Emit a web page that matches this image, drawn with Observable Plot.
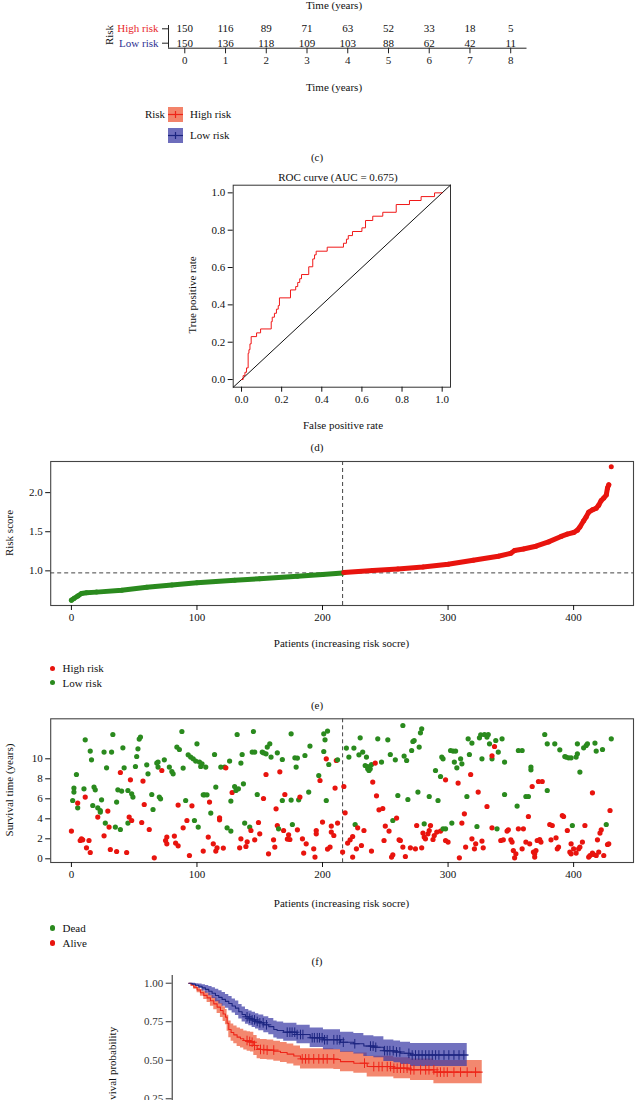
<!DOCTYPE html>
<html><head><meta charset="utf-8">
<script src="https://cdn.jsdelivr.net/npm/d3@7"></script>
<script src="https://cdn.jsdelivr.net/npm/@observablehq/plot@0.6"></script>
<style>
body{margin:0;background:#fff}
#page{position:relative;width:635px;height:1100px;overflow:hidden;background:#fff;font-family:'Liberation Serif','DejaVu Serif',serif;color:#111}
.lbl{position:absolute;white-space:nowrap;line-height:1;font-size:11px}
.abs{position:absolute;left:0}
</style></head><body><div id="page"></div>
<script>
// ---------- DATA ----------
// (c) number at risk table
const riskTimes = [0,1,2,3,4,5,6,7,8];
const highAtRisk = [150,116,89,71,63,52,33,18,5];
const lowAtRisk  = [150,136,118,109,103,88,62,42,11];
const riskGroups = ["High risk","Low risk"];

// (d) ROC curve (step points: start of each flat segment)
const rocFpr = [0,0.008,0.017,0.025,0.033,0.037,0.042,0.048,0.075,0.095,0.148,0.153,0.164,0.174,0.183,0.189,0.244,0.27,0.28,0.29,0.299,0.335,0.355,0.364,0.372,0.427,0.508,0.523,0.532,0.553,0.6,0.618,0.654,0.704,0.771,0.837,0.895,0.962,1.0];
const rocTpr = [0,0.021,0.039,0.0625,0.141,0.16,0.191,0.23,0.25,0.271,0.31,0.334,0.355,0.377,0.396,0.4375,0.48,0.498,0.52,0.54,0.5625,0.604,0.646,0.668,0.6875,0.709,0.73,0.752,0.771,0.793,0.8125,0.852,0.875,0.896,0.9375,0.959,0.98,1.0,1.0];
const aucLabel = "ROC curve (AUC = 0.675)";

// (e) risk score curve (patients sorted by increasing risk score)
const riskIdx   = [0,2,5,8,12,20,40,60,80,100,130,150,180,200,216,217,240,260,280,300,320,340,350,353,360,370,380,390,395,400,403,405,408,410,412,415,418,420,422,424,426,427,428,430];
const riskScore = [0.625,0.647,0.677,0.71,0.72,0.728,0.753,0.79,0.82,0.847,0.88,0.9,0.93,0.953,0.972,0.978,1.005,1.025,1.05,1.085,1.136,1.187,1.225,1.26,1.28,1.315,1.37,1.44,1.47,1.49,1.52,1.56,1.64,1.69,1.75,1.78,1.80,1.84,1.90,1.93,1.97,2.06,2.10,2.33];
const cutIdx = 216;
const cutScore = 0.974;

// (f) survival time per patient [patient, years]
const deadPts = [[1,5.83],[2,6.67],[2,7.07],[4,8.43],[5,5.1],[10,7.0],[11,11.9],[15,10.77],[16,9.9],[17,5.33],[18,7.17],[19,6.9],[21,5.1],[23,4.83],[23,4.67],[24,5.9],[26,10.67],[27,3.57],[28,9.1],[32,10.67],[33,12.43],[35,3.17],[36,5.67],[37,6.9],[39,2.93],[40,6.77],[41,11.1],[42,9.1],[45,3.57],[45,6.83],[48,6.5],[49,6.17],[51,9.23],[52,10.23],[53,11.0],[54,11.97],[55,12.17],[60,9.4],[61,8.5],[64,6.43],[65,4.93],[68,9.57],[69,9.67],[69,9.17],[70,6.17],[71,6.0],[74,9.9],[78,9.17],[80,8.73],[81,8.5],[84,11.17],[86,10.93],[88,12.73],[89,9.07],[91,5.83],[93,10.4],[95,10.17],[97,10.0],[98,3.83],[99,9.77],[100,11.5],[101,3.17],[102,9.67],[103,9.23],[104,9.5],[105,6.4],[106,6.4],[107,9.17],[108,6.4],[111,4.57],[114,10.43],[115,7.17],[119,9.17],[122,9.17],[124,3.1],[126,9.77],[127,5.77],[127,2.77],[130,7.23],[131,6.83],[132,12.43],[133,7.0],[135,9.57],[136,10.43],[137,7.5],[138,3.57],[142,3.17],[144,10.67],[145,12.73],[146,10.67],[148,6.43],[152,10.67],[153,10.6],[155,10.5],[156,11.17],[158,11.5],[159,10.17],[164,10.6],[165,3.0],[168,5.83],[168,9.93],[175,12.5],[175,5.87],[176,3.43],[178,10.1],[179,9.17],[180,10.07],[181,5.9],[186,10.33],[189,6.67],[190,11.27],[197,8.33],[201,12.5],[201,10.73],[202,11.9],[203,5.83],[204,12.77],[205,9.43],[212,9.9],
[219,11.07],[221,10.17],[225,11.07],[226,3.43],[229,10.4],[230,12.1],[232,10.67],[234,9.33],[235,10.17],[236,9.0],[236,9.23],[237,8.83],[238,9.0],[239,9.43],[244,12.0],[247,9.67],[252,11.9],[254,10.43],[256,3.83],[258,9.9],[260,6.33],[264,13.33],[265,10.27],[267,9.83],[268,5.93],[271,10.83],[272,11.73],[273,11.83],[276,6.67],[277,11.17],[278,12.6],[279,13.0],[281,3.5],[285,6.23],[290,8.83],[292,5.83],[294,8.23],[295,10.17],[296,10.0],[296,3.0],[298,3.0],[302,10.83],[303,3.57],[304,10.77],[305,9.67],[306,10.77],[307,9.1],[310,10.0],[311,9.5],[315,6.23],[316,12.0],[317,10.43],[319,11.57],[323,3.23],[325,12.1],[326,12.4],[327,10.0],[329,12.43],[331,12.17],[332,12.43],[333,11.5],[335,10.0],[338,11.83],[339,3.0],[340,10.67],[343,12.0],[345,9.67],[345,6.43],[355,5.27],[356,10.83],[359,10.83],[362,6.23],[364,6.23],[366,9.17],[366,8.9],[377,12.43],[379,11.5],[379,6.83],[385,11.5],[389,10.9],[393,10.23],[394,10.17],[396,10.1],[398,10.1],[399,3.33],[402,10.17],[403,11.5],[403,10.5],[405,8.67],[408,11.1],[410,11.33],[411,11.5],[417,11.57],[418,10.77],[423,10.93],[426,3.43],[430,12.0]];
const alivePts = [[0,2.77],[5,5.57],[7,1.83],[8,2.0],[9,1.9],[11,6.17],[12,1.1],[14,1.83],[15,0.63],[21,4.17],[26,2.3],[29,4.77],[30,3.17],[31,0.93],[36,0.73],[39,8.63],[44,0.63],[46,4.17],[47,7.9],[48,3.83],[56,3.63],[57,7.77],[58,5.43],[62,2.93],[66,0.1],[72,8.83],[75,1.83],[76,2.17],[76,1.5],[82,2.27],[83,1.57],[85,1.3],[85,5.37],[89,3.1],[92,3.83],[94,0.33],[96,5.3],[105,0.77],[109,2.17],[110,5.67],[113,1.5],[115,0.77],[116,1.1],[118,4.1],[118,3.9],[121,1.07],[123,9.1],[128,6.63],[134,1.1],[135,2.0],[139,1.23],[140,1.7],[143,2.83],[146,1.9],[149,3.63],[150,2.5],[153,6.03],[155,8.43],[157,0.5],[161,1.9],[162,1.17],[163,5.0],[164,3.33],[166,8.7],[169,2.83],[170,6.43],[172,1.97],[173,2.4],[174,1.93],[180,2.9],[182,6.17],[184,2.0],[185,0.57],[187,1.5],[193,1.0],[194,0.17],[195,2.83],[195,2.5],[198,7.83],[200,3.67],[203,10.0],[204,0.97],[206,1.17],[207,3.27],[207,2.67],[209,2.33],[210,7.07],[211,9.83],[212,3.57],
[216,0.67],[217,7.23],[218,4.6],[220,1.57],[222,1.9],[224,0.17],[224,2.23],[227,1.0],[228,3.1],[231,1.33],[233,2.83],[239,0.77],[240,7.67],[242,9.57],[243,6.3],[245,4.9],[248,5.03],[249,1.83],[250,3.27],[253,2.77],[255,0.17],[256,0.4],[259,4.07],[261,1.9],[262,1.83],[264,1.17],[266,0.23],[270,1.1],[274,1.0],[275,3.33],[279,1.1],[280,2.57],[281,2.17],[282,2.0],[284,2.5],[285,2.83],[286,3.33],[288,1.93],[289,2.33],[291,2.67],[294,2.77],[298,7.9],[298,1.83],[300,1.67],[308,7.57],[309,0.1],[311,3.57],[313,4.5],[314,1.17],[318,8.43],[319,2.0],[321,1.0],[322,1.5],[324,6.67],[327,1.77],[328,1.1],[331,5.23],[335,3.1],[335,10.3],[337,11.23],[342,1.83],[344,1.9],[347,2.77],[348,2.9],[350,1.9],[351,1.67],[352,0.83],[353,0.1],[354,0.5],[356,3.0],[359,1.0],[360,3.0],[362,1.67],[364,4.23],[365,1.5],[367,7.23],[368,0.67],[369,0.17],[369,0.5],[370,0.83],[371,1.83],[372,7.73],[373,1.93],[374,1.67],[375,7.73],[381,3.43],[382,1.9],[383,3.33],[386,2.1],[387,1.0],[388,1.17],[391,4.33],[392,4.23],[395,2.83],[397,0.67],[398,1.5],[398,0.5],[400,1.0],[402,0.57],[404,1.0],[405,1.17],[407,1.67],[409,3.33],[412,0.17],[413,0.33],[415,0.57],[415,6.6],[416,0.43],[418,0.33],[419,1.9],[420,0.67],[421,2.57],[422,2.9],[424,0.33],[427,1.43],[428,1.5],[429,4.83]];

// (g) Kaplan-Meier curves
const lowTime  = [0,0.151,0.302,0.453,0.604,0.755,0.906,1.057,1.208,1.360,1.511,1.662,1.813,1.964,2.115,2.266,2.417,2.568,2.719,2.870,3.021,3.172,3.399,3.625,3.852,4.003,4.3,4.9,5.5,6.1,6.873,7.477,7.931,8.384,8.837,9.290,9.592,10.045,12.613];
const lowSurv  = [1,0.994,0.987,0.98,0.97,0.96,0.948,0.935,0.92,0.908,0.895,0.882,0.868,0.852,0.838,0.815,0.797,0.782,0.772,0.762,0.752,0.743,0.73,0.718,0.70,0.693,0.682,0.667,0.646,0.633,0.617,0.607,0.592,0.584,0.562,0.554,0.545,0.534,0.534];
const lowLower = [1,0.988,0.977,0.965,0.95,0.935,0.918,0.90,0.88,0.865,0.851,0.837,0.822,0.806,0.791,0.768,0.749,0.734,0.724,0.713,0.702,0.692,0.678,0.665,0.645,0.637,0.624,0.607,0.583,0.568,0.552,0.541,0.525,0.516,0.492,0.483,0.473,0.459,0.459];
const lowUpper = [1,1.0,0.997,0.995,0.99,0.985,0.978,0.97,0.96,0.951,0.939,0.927,0.914,0.898,0.885,0.862,0.845,0.83,0.82,0.811,0.802,0.794,0.782,0.771,0.755,0.749,0.74,0.727,0.709,0.698,0.682,0.673,0.659,0.652,0.632,0.625,0.617,0.609,0.609];
const highTime  = [0,0.106,0.227,0.378,0.529,0.680,0.831,0.982,1.133,1.284,1.435,1.556,1.662,1.737,1.813,1.918,2.039,2.190,2.341,2.492,2.644,2.795,2.946,3.097,3.248,3.550,3.852,4.154,4.456,4.758,5.060,6.571,6.873,7.477,8.082,9.290,10.045,11.103,13.293];
const highSurv  = [1,0.988,0.974,0.956,0.938,0.921,0.905,0.886,0.866,0.845,0.823,0.80,0.78,0.74,0.70,0.68,0.665,0.65,0.64,0.628,0.622,0.617,0.596,0.574,0.57,0.566,0.558,0.55,0.54,0.528,0.509,0.505,0.491,0.481,0.459,0.4485,0.438,0.423,0.423];
const highLower = [1,0.98,0.961,0.938,0.915,0.894,0.874,0.851,0.827,0.803,0.778,0.752,0.73,0.688,0.646,0.624,0.607,0.59,0.579,0.566,0.559,0.553,0.531,0.509,0.505,0.501,0.493,0.485,0.475,0.463,0.444,0.44,0.425,0.415,0.392,0.3805,0.368,0.348,0.348];
const highUpper = [1,0.996,0.987,0.974,0.961,0.948,0.936,0.921,0.905,0.887,0.868,0.848,0.83,0.792,0.754,0.736,0.723,0.71,0.701,0.69,0.685,0.681,0.661,0.639,0.635,0.631,0.623,0.615,0.605,0.593,0.574,0.57,0.557,0.547,0.526,0.5165,0.508,0.498,0.498];
const lowCensor  = [2.64,2.76,2.87,2.98,3.10,3.22,3.37,3.52,4.46,4.58,4.68,4.80,4.91,5.06,5.17,5.59,5.69,5.82,5.92,6.04,6.15,6.27,6.57,6.72,6.84,7.0,7.52,8.23,8.35,8.47,8.87,8.99,9.11,9.26,9.41,9.56,9.97,10.12,10.27,10.42,10.57,10.73,10.88,11.03,11.18,11.33,11.56,11.78,12.01,12.24,12.46];
const highCensor = [2.64,2.76,2.87,2.98,3.25,3.40,3.55,3.85,5.14,5.29,5.44,5.66,5.89,6.09,6.27,6.57,7.96,8.38,8.61,8.76,8.99,9.14,9.29,9.44,9.59,9.74,9.89,10.05,10.2,10.5,10.73,10.88,11.1,11.25,11.4,11.56,11.71,12.01,12.31,12.61,12.99];

// ---------- STYLE ----------
const FONT = "'Liberation Serif','DejaVu Serif',serif";
const RED = "#e8140e", GREEN = "#2a8a1e";
const KM_RED = "#ee2418", KM_BLUE = "#1c2580";
const BAND_RED = "#ef5a38", BAND_BLUE = "#3c3ca6";
const baseStyle = {fontFamily: FONT, fontSize: "11px", background: "transparent", overflow: "visible", color: "#111"};

const page = document.getElementById("page");
function place(node, top) {
  const d = document.createElement("div");
  d.className = "abs"; d.style.top = top + "px";
  d.appendChild(node); page.appendChild(d);
}
function label(text, x, y, {rot = false, color = "#111", size = 11, align = "center"} = {}) {
  const d = document.createElement("div");
  d.className = "lbl"; d.textContent = text;
  d.style.left = x + "px"; d.style.top = y + "px";
  d.style.color = color; d.style.fontSize = size + "px";
  const tx = align === "left" ? "0" : "-50%";
  d.style.transform = `translate(${tx},-50%)` + (rot ? " rotate(-90deg)" : "");
  page.appendChild(d);
  return d;
}

// ---------- (c) risk table ----------
const tableX = [-0.4, 8.4];
const tableY = [-0.347, 1.229];
const tableRows = riskTimes.flatMap((t, i) => [{t, row: 1, n: highAtRisk[i]}, {t, row: 0, n: lowAtRisk[i]}]);
place(Plot.plot({
  width: 635, height: 100, marginTop: 25, marginBottom: 52.3, marginLeft: 168, marginRight: 108.5,
  style: baseStyle,
  x: {domain: tableX}, y: {domain: tableY},
  marks: [
    Plot.ruleX([tableX[0]], {stroke: "#222"}),
    Plot.ruleY([tableY[0]], {stroke: "#222"}),
    Plot.axisX({ticks: riskTimes, tickSize: 5.6, tickPadding: 2.5, label: null, color: "#222"}),
    Plot.axisY({ticks: [1, 0], tickSize: 6, tickFormat: () => "", label: null, color: "#222"}),
    Plot.text([riskGroups[0]], {x: () => tableX[0], y: () => 1, text: d => d, textAnchor: "end", dx: -10, fill: "#e8262a"}),
    Plot.text([riskGroups[1]], {x: () => tableX[0], y: () => 0, text: d => d, textAnchor: "end", dx: -10, fill: "#2e3192"}),
    Plot.text(tableRows, {x: "t", y: "row", text: "n", fill: "#111"})
  ]
}), 0);
label("Time (years)", 334, 5);
label("Risk", 108.5, 35, {rot: true});
label("Time (years)", 334, 87);
// legend (c)
function swatch(fill, stroke, top) {
  const ns = "http://www.w3.org/2000/svg";
  const s = document.createElementNS(ns, "svg");
  s.setAttribute("width", 15); s.setAttribute("height", 15);
  s.style.position = "absolute"; s.style.left = "168px"; s.style.top = top + "px";
  s.innerHTML = `<rect width="15" height="15" fill="${fill}" fill-opacity="0.75"/><line x1="0" x2="15" y1="7.5" y2="7.5" stroke="${stroke}" stroke-width="1.2"/><line x1="7.5" x2="7.5" y1="4" y2="11" stroke="${stroke}" stroke-width="1.2"/>`;
  page.appendChild(s);
}
label("Risk", 155, 114);
swatch(BAND_RED, KM_RED, 107);
swatch(BAND_BLUE, KM_BLUE, 128);
label("High risk", 190, 114, {align: "left"});
label("Low risk", 190, 135, {align: "left"});
label("(c)", 317, 157);

// ---------- (d) ROC ----------
const rocX = [-0.0415, 1.0415], rocY = [-0.041, 1.041];
const roc = rocFpr.map((x, i) => ({x, y: rocTpr[i]}));
const diag = rocX.map(v => ({x: v, y: v}));
const rocTicks = [0, 0.2, 0.4, 0.6, 0.8, 1.0];
place(Plot.plot({
  width: 635, height: 270, marginTop: 14.7, marginBottom: 53.3, marginLeft: 232.7, marginRight: 185,
  style: baseStyle,
  x: {domain: rocX}, y: {domain: rocY},
  marks: [
    Plot.frame({stroke: "#333"}),
    Plot.line(diag, {x: "x", y: "y", stroke: "#111", strokeWidth: 1}),
    Plot.line(roc, {x: "x", y: "y", curve: "step-after", stroke: "#f01818", strokeWidth: 1}),
    Plot.axisX({ticks: rocTicks, tickFormat: ".1f", tickSize: 5, tickPadding: 3, label: null, color: "#111"}),
    Plot.axisY({ticks: rocTicks, tickFormat: ".1f", tickSize: 5, tickPadding: 3, label: null, color: "#111"})
  ]
}), 170);
label(aucLabel, 338, 177);
label("False positive rate", 343, 425);
label("True positive rate", 192, 295, {rot: true});
label("(d)", 317, 447);

// ---------- (e) risk score ----------
const patX = [-16.5, 447.7];
const patTicks = [0, 100, 200, 300, 400];
const riskPts = riskIdx.map((p, i) => ({p, s: riskScore[i]}));
const riskLowPts = riskPts.filter(d => d.p <= cutIdx);
const riskHighPts = riskPts.filter(d => d.p > cutIdx);
place(Plot.plot({
  width: 635, height: 210, marginTop: 21, marginBottom: 45, marginLeft: 50.2, marginRight: 2,
  style: baseStyle,
  x: {domain: patX}, y: {domain: [0.557, 2.398]},
  marks: [
    Plot.frame({stroke: "#444", strokeWidth: 1.1}),
    Plot.ruleX([cutIdx], {stroke: "#444", strokeDasharray: "4,3"}),
    Plot.ruleY([cutScore], {stroke: "#444", strokeDasharray: "4,3"}),
    Plot.line(riskLowPts, {x: "p", y: "s", stroke: GREEN, strokeWidth: 5, strokeLinecap: "round", strokeLinejoin: "round"}),
    Plot.line(riskHighPts.filter(d => d.s < 2.2), {x: "p", y: "s", stroke: RED, strokeWidth: 5, strokeLinecap: "round", strokeLinejoin: "round"}),
    Plot.dot(riskLowPts, {x: "p", y: "s", r: 2.5, fill: GREEN}),
    Plot.dot(riskHighPts, {x: "p", y: "s", r: 2.5, fill: RED}),
    Plot.axisX({ticks: patTicks, tickSize: 5, tickPadding: 3, label: null, color: "#111"}),
    Plot.axisY({ticks: [1, 1.5, 2], tickFormat: ".1f", tickSize: 5, tickPadding: 3, label: null, color: "#111"})
  ]
}), 440);
label("Risk score", 9, 533, {rot: true});
label("Patients (increasing risk socre)", 341.5, 643);
function dotLegend(color, text, y) {
  const d = document.createElement("div");
  d.style.cssText = `position:absolute;left:50px;top:${y - 2.7}px;width:5.4px;height:5.4px;border-radius:50%;background:${color}`;
  page.appendChild(d);
  label(text, 62.5, y, {align: "left"});
}
dotLegend(RED, "High risk", 668.3);
dotLegend(GREEN, "Low risk", 682.7);
label("(e)", 317, 705);

// ---------- (f) survival time ----------
const survTable = [
  ...deadPts.map(([p, t]) => ({p, t, status: "Dead"})),
  ...alivePts.map(([p, t]) => ({p, t, status: "Alive"}))
].sort((a, b) => a.p - b.p);
place(Plot.plot({
  width: 635, height: 200, marginTop: 18.3, marginBottom: 38, marginLeft: 50.2, marginRight: 2,
  style: baseStyle,
  x: {domain: patX}, y: {domain: [-0.37, 14.0]},
  color: {domain: ["Dead", "Alive"], range: [GREEN, RED]},
  marks: [
    Plot.frame({stroke: "#444", strokeWidth: 1.1}),
    Plot.ruleX([cutIdx], {stroke: "#444", strokeDasharray: "4,3"}),
    Plot.dot(survTable, {x: "p", y: "t", fill: "status", r: 2.6}),
    Plot.axisX({ticks: patTicks, tickSize: 5, tickPadding: 3, label: null, color: "#111"}),
    Plot.axisY({ticks: [0, 2, 4, 6, 8, 10], tickSize: 5, tickPadding: 3, label: null, color: "#111"})
  ]
}), 700);
label("Survival time (years)", 9, 790, {rot: true});
label("Patients (increasing risk socre)", 341.5, 903);
dotLegend(GREEN, "Dead", 928);
dotLegend(RED, "Alive", 943);
label("(f)", 317, 961);

// ---------- (g) Kaplan-Meier (lower part cropped by the page edge) ----------
const kmX = [-0.75, 15.75], kmY = [-0.05, 1.05];
const lowKM = lowTime.map((t, i) => ({t, s: lowSurv[i], lo: lowLower[i], hi: lowUpper[i]}));
const highKM = highTime.map((t, i) => ({t, s: highSurv[i], lo: highLower[i], hi: highUpper[i]}));
function survAt(km, t) {
  const i = d3.bisectRight(km.map(d => d.t), t) - 1;
  return km[Math.max(0, i)].s;
}
const lowCens = lowCensor.map(t => ({t, s: survAt(lowKM, t)}));
const highCens = highCensor.map(t => ({t, s: survAt(highKM, t)}));
place(Plot.plot({
  width: 635, height: 240, marginTop: 15, marginBottom: 55.5, marginLeft: 171.7, marginRight: 99,
  style: baseStyle,
  x: {domain: kmX, axis: null}, y: {domain: kmY},
  marks: [
    Plot.areaY(highKM, {x: "t", y1: "lo", y2: "hi", curve: "step-after", fill: BAND_RED, fillOpacity: 0.72}),
    Plot.areaY(lowKM, {x: "t", y1: "lo", y2: "hi", curve: "step-after", fill: BAND_BLUE, fillOpacity: 0.72}),
    Plot.line(highKM, {x: "t", y: "s", curve: "step-after", stroke: KM_RED, strokeWidth: 1.1}),
    Plot.line(lowKM, {x: "t", y: "s", curve: "step-after", stroke: KM_BLUE, strokeWidth: 1.1}),
    Plot.dot(highCens, {x: "t", y: "s", symbol: "plus", r: 3.2, stroke: KM_RED, strokeWidth: 1}),
    Plot.dot(lowCens, {x: "t", y: "s", symbol: "plus", r: 3.2, stroke: KM_BLUE, strokeWidth: 1}),
    Plot.ruleX([kmX[0]], {stroke: "#222"}),
    Plot.axisY({ticks: [0.25, 0.5, 0.75, 1], tickFormat: ".2f", tickSize: 6, tickPadding: 3, label: null, color: "#333"})
  ]
}), 960);
label("Survival probability", 111.7, 1071, {rot: true});
</script></body></html>
